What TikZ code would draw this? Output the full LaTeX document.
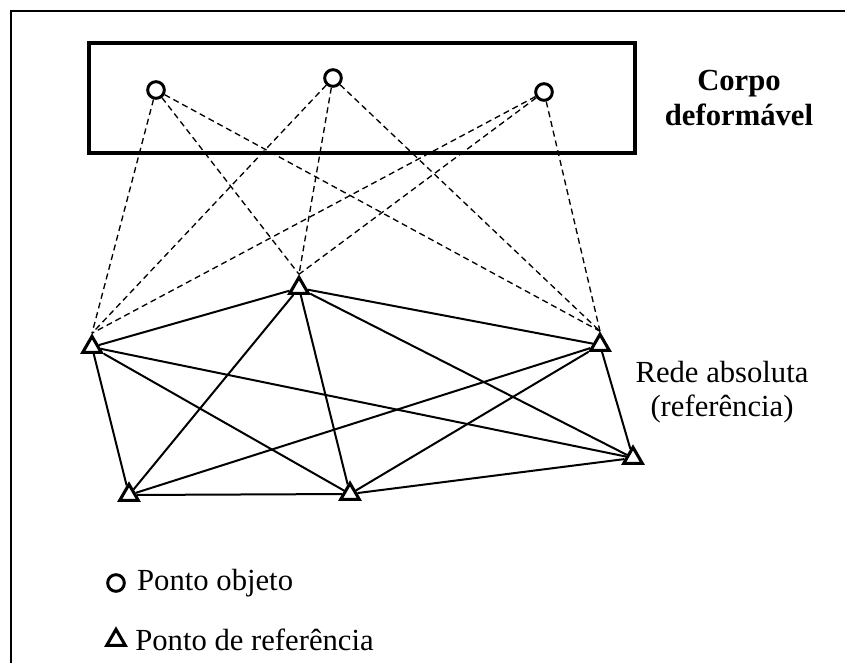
\documentclass[tikz,border=0pt]{standalone}
\usepackage{fontspec}
\setmainfont{Liberation Serif}
\usetikzlibrary{shapes.geometric, positioning}
\tikzset{>=latex}

\begin{document}
\begin{tikzpicture}[x = 0.75pt, y = -0.75pt,
  objpt/.style = {circle, draw, line width = 2.2pt, fill = white, inner sep = 0pt, minimum size = 12.5pt},
  refpt/.style = {regular polygon, regular polygon sides = 3, draw, line width = 2.3pt, fill = white, inner sep = 0pt, minimum size = 16pt},
  rede/.style = {line width = 1.5pt},
  visada/.style = {dash pattern = on 4.5pt off 3pt, line width = 1pt},
  lbl/.style = {font = \fontsize{23}{26}\selectfont, align = center}]
\useasboundingbox (0,0) rectangle (845,663);
\draw[line width = 1.6pt] (845,11) -- (11,11) -- (11,663);

% corpo deformavel
\draw[line width = 3.6pt] (89,43) rectangle (635,153);
\node[objpt] (o1) at (156,90) {};
\node[objpt] (o2) at (333,78) {};
\node[objpt] (o3) at (544,92) {};
\node[lbl, font = \fontsize{23}{26}\selectfont\bfseries] (corpo) at (739,98) {Corpo\\deformável};

% rede absoluta
\node[refpt] (a) at (92,347) {};
\node[refpt] (b) at (299,288) {};
\node[refpt] (c) at (600,345) {};
\node[refpt] (d) at (633,458) {};
\node[refpt] (e) at (350,494) {};
\node[refpt] (f) at (129,495) {};
\node[lbl] (rede) at (722,392) {Rede absoluta\\(referência)};

\foreach \p/\q in {a/b, a/d, a/e, a/f, b/c, b/d, b/e, b/f, c/d, c/e, c/f, d/e, e/f}
  \draw[rede] (\p) -- (\q);
\foreach \o in {o1, o2, o3}
  \foreach \r in {a, b, c}
    \draw[visada] (\o) -- (\r.north);

% legenda
\node[objpt] (lo) at (116,583) {};
\node[lbl, right = 5pt of lo] (lot) {Ponto objeto};
\node[refpt] (lr) at (116,640) {};
\node[lbl, right = 5pt of lr] (lrt) {Ponto de referência};
\end{tikzpicture}
\end{document}
